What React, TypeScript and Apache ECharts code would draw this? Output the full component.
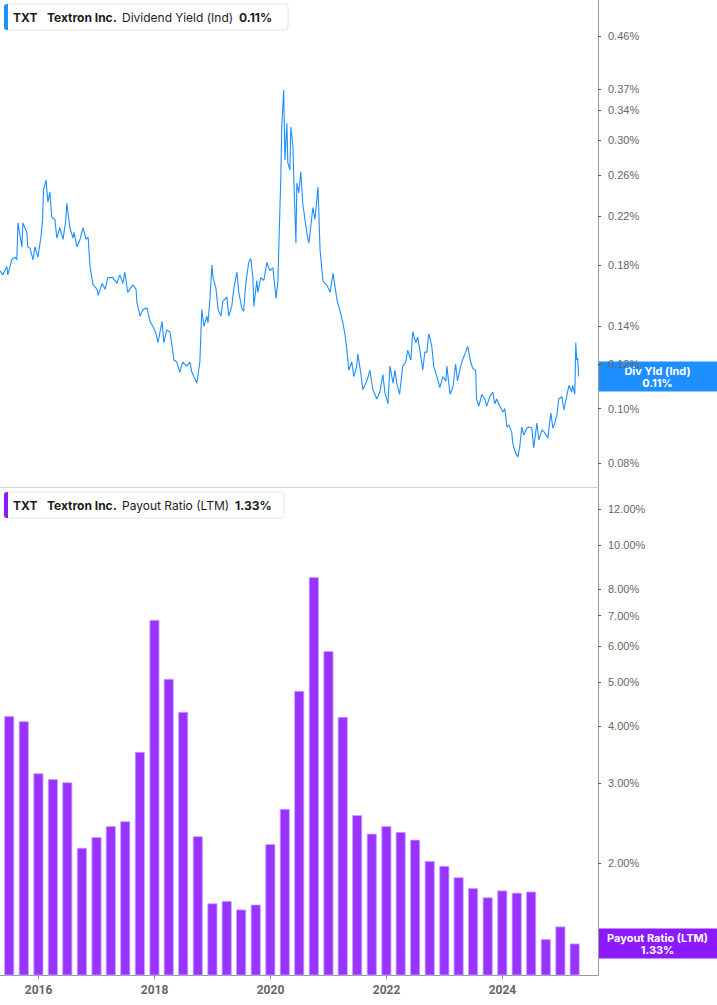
import React, { useEffect, useRef } from "react";
import * as echarts from "echarts";

const COMPANY_TICKER = "TXT";
const COMPANY_NAME = "Textron Inc.";
const YIELD_NAME = "Dividend Yield (Ind)";
const YIELD_SHORT = "Div Yld (Ind)";
const PAYOUT_NAME = "Payout Ratio (LTM)";

const yieldDates = [
  "2015-05-02","2015-05-21","2015-06-15","2015-06-21","2015-07-16","2015-08-05","2015-08-17","2015-08-24","2015-09-18","2015-09-24",
  "2015-10-19","2015-10-25","2015-11-08","2015-11-27","2015-12-09","2015-12-28","2016-01-16","2016-01-26","2016-02-01","2016-02-17",
  "2016-02-29","2016-03-12","2016-03-24","2016-04-13","2016-04-25","2016-05-14","2016-06-03","2016-06-21","2016-06-27","2016-07-16",
  "2016-08-05","2016-08-11","2016-08-30","2016-09-18","2016-10-07","2016-10-26","2016-11-08","2016-11-20","2016-12-09","2017-01-04",
  "2017-01-10","2017-02-05","2017-02-23","2017-03-12","2017-04-13","2017-05-08","2017-05-27","2017-06-15","2017-06-27","2017-07-16",
  "2017-08-17","2017-09-06","2017-09-12","2017-10-01","2017-10-19","2017-11-14","2017-12-03","2017-12-21","2018-01-10","2018-01-22",
  "2018-02-17","2018-02-28","2018-03-18","2018-04-07","2018-04-25","2018-05-02","2018-05-21","2018-06-09","2018-06-27","2018-07-22",
  "2018-08-11","2018-08-24","2018-09-24","2018-10-13","2018-10-25","2018-11-08","2018-11-26","2018-12-03","2018-12-15","2018-12-28",
  "2019-01-04","2019-01-22","2019-02-05","2019-02-23","2019-03-06","2019-04-01","2019-04-13","2019-05-02","2019-05-14","2019-06-03",
  "2019-06-15","2019-07-04","2019-07-16","2019-07-29","2019-08-17","2019-08-30","2019-09-12","2019-09-18","2019-10-07","2019-10-13",
  "2019-11-01","2019-11-20","2019-12-09","2019-12-28","2020-01-16","2020-02-05","2020-02-17","2020-02-23","2020-03-06","2020-03-12",
  "2020-03-24","2020-04-01","2020-04-13","2020-04-19","2020-05-02","2020-05-08","2020-05-21","2020-05-27","2020-06-09","2020-06-15",
  "2020-06-27","2020-07-10","2020-07-22","2020-08-17","2020-08-30","2020-09-24","2020-10-07","2020-10-26","2020-11-08","2020-11-26",
  "2020-12-09","2020-12-21","2021-01-10","2021-01-29","2021-02-23","2021-03-12","2021-04-01","2021-04-13","2021-04-25","2021-05-08",
  "2021-05-27","2021-06-09","2021-06-27","2021-07-04","2021-07-22","2021-08-05","2021-08-30","2021-09-18","2021-10-07","2021-11-01",
  "2021-11-20","2021-12-09","2021-12-21","2022-01-10","2022-01-22","2022-02-11","2022-02-23","2022-03-06","2022-03-24","2022-04-13",
  "2022-05-02","2022-05-14","2022-06-03","2022-06-15","2022-07-04","2022-07-16","2022-08-05","2022-08-17","2022-08-30","2022-09-12",
  "2022-09-24","2022-10-13","2022-10-25","2022-11-14","2022-12-03","2022-12-21","2023-01-10","2023-01-16","2023-02-05","2023-02-23",
  "2023-03-12","2023-03-24","2023-04-13","2023-04-25","2023-05-14","2023-05-27","2023-06-15","2023-06-27","2023-07-16","2023-07-22",
  "2023-08-05","2023-08-24","2023-09-12","2023-09-24","2023-10-13","2023-11-01","2023-11-14","2023-11-26","2023-12-15","2024-01-04",
  "2024-01-16","2024-01-29","2024-02-11","2024-02-29","2024-03-06","2024-03-24","2024-04-07","2024-04-19","2024-05-02","2024-05-14",
  "2024-06-03","2024-06-15","2024-07-04","2024-07-16","2024-08-05","2024-08-17","2024-09-06","2024-09-24","2024-10-13","2024-11-01",
  "2024-11-14","2024-11-26","2024-12-09","2024-12-21","2025-01-10","2025-01-22","2025-02-11","2025-02-23","2025-03-12","2025-03-18",
  "2025-04-01","2025-04-07","2025-04-13","2025-04-19","2025-04-25",
];

const yieldValues = [
  0.176,0.173,0.179,0.173,0.184,0.186,0.184,0.214,0.194,0.214,
  0.206,0.194,0.193,0.184,0.194,0.186,0.202,0.217,0.245,0.255,
  0.233,0.243,0.219,0.217,0.201,0.210,0.200,0.217,0.232,0.210,
  0.201,0.206,0.194,0.200,0.210,0.200,0.202,0.179,0.166,0.163,
  0.159,0.167,0.163,0.171,0.171,0.167,0.173,0.167,0.175,0.161,
  0.166,0.163,0.154,0.146,0.150,0.151,0.143,0.140,0.136,0.131,
  0.143,0.131,0.138,0.137,0.127,0.122,0.121,0.116,0.121,0.119,
  0.121,0.116,0.111,0.121,0.150,0.140,0.146,0.142,0.156,0.180,
  0.171,0.164,0.150,0.146,0.155,0.158,0.146,0.152,0.163,0.175,
  0.161,0.151,0.149,0.167,0.182,0.185,0.171,0.152,0.169,0.161,
  0.171,0.169,0.182,0.176,0.178,0.157,0.169,0.197,0.258,0.317,
  0.369,0.277,0.322,0.274,0.266,0.317,0.294,0.255,0.197,0.252,
  0.242,0.264,0.232,0.205,0.197,0.228,0.217,0.248,0.192,0.169,
  0.167,0.166,0.161,0.174,0.156,0.150,0.142,0.136,0.128,0.117,
  0.121,0.114,0.119,0.125,0.116,0.108,0.112,0.117,0.108,0.104,
  0.107,0.115,0.107,0.102,0.119,0.111,0.117,0.111,0.106,0.119,
  0.121,0.127,0.122,0.137,0.131,0.134,0.124,0.117,0.126,0.126,
  0.136,0.129,0.119,0.114,0.109,0.114,0.112,0.119,0.106,0.109,
  0.120,0.112,0.119,0.122,0.126,0.129,0.121,0.118,0.117,0.104,
  0.101,0.106,0.104,0.101,0.105,0.107,0.102,0.104,0.101,0.0986,
  0.100,0.0927,0.0935,0.0905,0.0868,0.0833,0.0820,0.0854,0.0927,0.0897,
  0.0923,0.0927,0.0923,0.0851,0.0942,0.0879,0.0916,0.0905,0.0886,0.0982,
  0.0923,0.0942,0.0974,0.104,0.105,0.0994,0.106,0.110,0.107,0.110,
  0.106,0.131,0.122,0.123,0.114,
];

const payoutDates = [
  "2015-03-31","2015-06-30","2015-09-30","2015-12-31",
  "2016-03-31","2016-06-30","2016-09-30","2016-12-31",
  "2017-03-31","2017-06-30","2017-09-30","2017-12-31",
  "2018-03-31","2018-06-30","2018-09-30","2018-12-31",
  "2019-03-31","2019-06-30","2019-09-30","2019-12-31",
  "2020-03-31","2020-06-30","2020-09-30","2020-12-31",
  "2021-03-31","2021-06-30","2021-09-30","2021-12-31",
  "2022-03-31","2022-06-30","2022-09-30","2022-12-31",
  "2023-03-31","2023-06-30","2023-09-30","2023-12-31",
  "2024-03-31","2024-06-30","2024-09-30","2024-12-31",
  "2025-03-31",
];

const payoutValues = [
  4.38,4.21,4.10,3.15,
  3.06,3.01,2.16,2.28,
  2.41,2.47,3.51,6.85,
  5.08,4.30,2.29,1.63,
  1.65,1.58,1.62,2.20,
  2.63,4.78,8.51,5.85,
  4.19,2.55,2.32,2.41,
  2.34,2.25,2.02,1.97,
  1.86,1.76,1.68,1.74,
  1.72,1.73,1.36,1.45,
  1.33,
];

const yieldTicks = [0.08, 0.1, 0.12, 0.14, 0.18, 0.22, 0.26, 0.3, 0.34, 0.37, 0.46];
const payoutTicks = [2, 3, 4, 5, 6, 7, 8, 10, 12];
const yearTicks = ["2016-01-01", "2018-01-01", "2020-01-01", "2022-01-01", "2024-01-01"];

const X_RANGE = ["2015-05-03", "2025-08-25"];
const YIELD_RANGE = [0.0725, 0.5336];
const PAYOUT_RANGE = [1.134, 13.36];

const BLUE = "#1e8fff";
const PURPLE = "#9933ff";
const PURPLE_LABEL = "#8c1aff";
const TEXT_FONT = "Inter, 'Noto Sans', sans-serif";
const AXIS_FONT = "'Liberation Sans', Arial, sans-serif";

const ts = (s: string) => Date.UTC(+s.slice(0, 4), +s.slice(5, 7) - 1, +s.slice(8, 10));

export default function App() {
  const ref = useRef<HTMLDivElement>(null);

  useEffect(() => {
    if (!ref.current) return;
    const chart = echarts.init(ref.current, undefined, { renderer: "svg" });
    const xMin = ts(X_RANGE[0]);
    const xMax = ts(X_RANGE[1]);
    const yearVals = yearTicks.map(ts);

    const yAxisCommon = (ticks: number[], range: number[], gridIndex: number) => ({
      type: "log",
      logBase: 10,
      gridIndex,
      position: "right",
      min: range[0],
      max: range[1],
      splitLine: { show: false },
      axisLine: { show: true, lineStyle: { color: "#9a9a9a", width: 1 } },
      axisTick: {
        show: true,
        length: 3,
        customValues: ticks,
        lineStyle: { color: "#555" },
      },
      axisLabel: {
        customValues: ticks,
        margin: 10,
        color: "#666",
        fontSize: 11,
        fontFamily: AXIS_FONT,
        formatter: (v: number) => v.toFixed(2) + "%",
      },
    });

    const option: any = {
      animation: false,
      backgroundColor: "#ffffff",
      grid: [
        { left: 0, right: 119, top: 0, height: 487 },
        { left: 0, right: 119, top: 488, bottom: 30 },
      ],
      xAxis: [
        {
          type: "value",
          gridIndex: 0,
          min: xMin,
          max: xMax,
          axisLine: { show: true, onZero: false, lineStyle: { color: "#d0d0d0" } },
          axisTick: { show: false },
          axisLabel: { show: false },
          splitLine: { show: false },
        },
        {
          type: "value",
          gridIndex: 1,
          min: xMin,
          max: xMax,
          axisLine: { show: true, onZero: false, lineStyle: { color: "#9a9a9a" } },
          axisTick: { show: true, length: 4, customValues: yearVals, lineStyle: { color: "#888" } },
          axisLabel: {
            customValues: yearVals,
            color: "#666",
            fontSize: 12,
            fontWeight: "bold",
            fontFamily: "Roboto, sans-serif",
            margin: 9,
            formatter: (v: number) => String(new Date(v).getUTCFullYear()),
          },
          splitLine: { show: false },
        },
      ],
      yAxis: [
        yAxisCommon(yieldTicks, YIELD_RANGE, 0),
        yAxisCommon(payoutTicks, PAYOUT_RANGE, 1),
      ],
      series: [
        {
          type: "line",
          xAxisIndex: 0,
          yAxisIndex: 0,
          data: yieldDates.map((d, i) => [ts(d), yieldValues[i]]),
          showSymbol: false,
          symbol: "none",
          clip: true,
          lineStyle: { color: BLUE, width: 1.1 },
        },
        {
          type: "bar",
          xAxisIndex: 1,
          yAxisIndex: 1,
          data: payoutDates.map((d, i) => [ts(d), payoutValues[i]]),
          barWidth: 10,
          clip: true,
          itemStyle: { color: PURPLE, borderColor: "#c9a3ff", borderWidth: 0.8 },
        },
      ],
    };
    chart.setOption(option);

    const lastYield = yieldValues[yieldValues.length - 1];
    const lastPayout = payoutValues[payoutValues.length - 1];
    const yY = chart.convertToPixel({ yAxisIndex: 0 } as any, lastYield) as number;
    const yP = chart.convertToPixel({ yAxisIndex: 1 } as any, lastPayout) as number;

    const legendBox = (top: number, width: number, accent: string, metric: string, value: string, valueX: number) => ({
      type: "group",
      x: 4,
      y: top,
      children: [
        {
          type: "rect",
          shape: { x: 0, y: 0, width, height: 26, r: 3 },
          style: { fill: "#ffffff", stroke: "#e4e4e4", lineWidth: 1 },
        },
        {
          type: "rect",
          shape: { x: 0, y: 0, width: 4, height: 26, r: [3, 0, 0, 3] },
          style: { fill: accent },
        },
        {
          type: "text",
          x: 9, y: 13,
          style: { text: COMPANY_TICKER, font: `bold 12px ${TEXT_FONT}`, fill: "#1c1c1c", verticalAlign: "middle" },
        },
        {
          type: "text",
          x: 43, y: 13,
          style: { text: COMPANY_NAME, font: `bold 12px ${TEXT_FONT}`, fill: "#1c1c1c", verticalAlign: "middle" },
        },
        {
          type: "text",
          x: 118, y: 13,
          style: { text: metric, font: `12px ${TEXT_FONT}`, fill: "#1c1c1c", verticalAlign: "middle" },
        },
        {
          type: "text",
          x: valueX, y: 13,
          style: { text: value, font: `bold 12px ${TEXT_FONT}`, fill: "#1c1c1c", verticalAlign: "middle" },
        },
      ],
    });

    const endBox = (y: number, color: string, line1: string, line2: string) => ({
      type: "group",
      x: 598,
      y: y - 15,
      z: 100,
      children: [
        { type: "rect", shape: { x: 0, y: 0, width: 119, height: 30 }, style: { fill: color } },
        {
          type: "text",
          x: 59.5, y: 15,
          style: {
            text: line1 + "\n" + line2,
            font: `bold 11px ${TEXT_FONT}`,
            lineHeight: 12,
            fill: "#ffffff",
            align: "center",
            verticalAlign: "middle",
          },
        },
      ],
    });

    chart.setOption({
      graphic: [
        legendBox(4, 284, BLUE, YIELD_NAME, lastYield.toFixed(2) + "%", 235),
        legendBox(492, 280, PURPLE_LABEL, PAYOUT_NAME, lastPayout.toFixed(2) + "%", 231),
        endBox(yY, BLUE, YIELD_SHORT, lastYield.toFixed(2) + "%"),
        endBox(yP, PURPLE_LABEL, PAYOUT_NAME, lastPayout.toFixed(2) + "%"),
      ],
    });

    return () => chart.dispose();
  }, []);

  return (
    <div
      ref={ref}
      style={{ position: "absolute", left: 0, top: 0, width: 717, height: 1005, background: "#fff" }}
    />
  );
}
